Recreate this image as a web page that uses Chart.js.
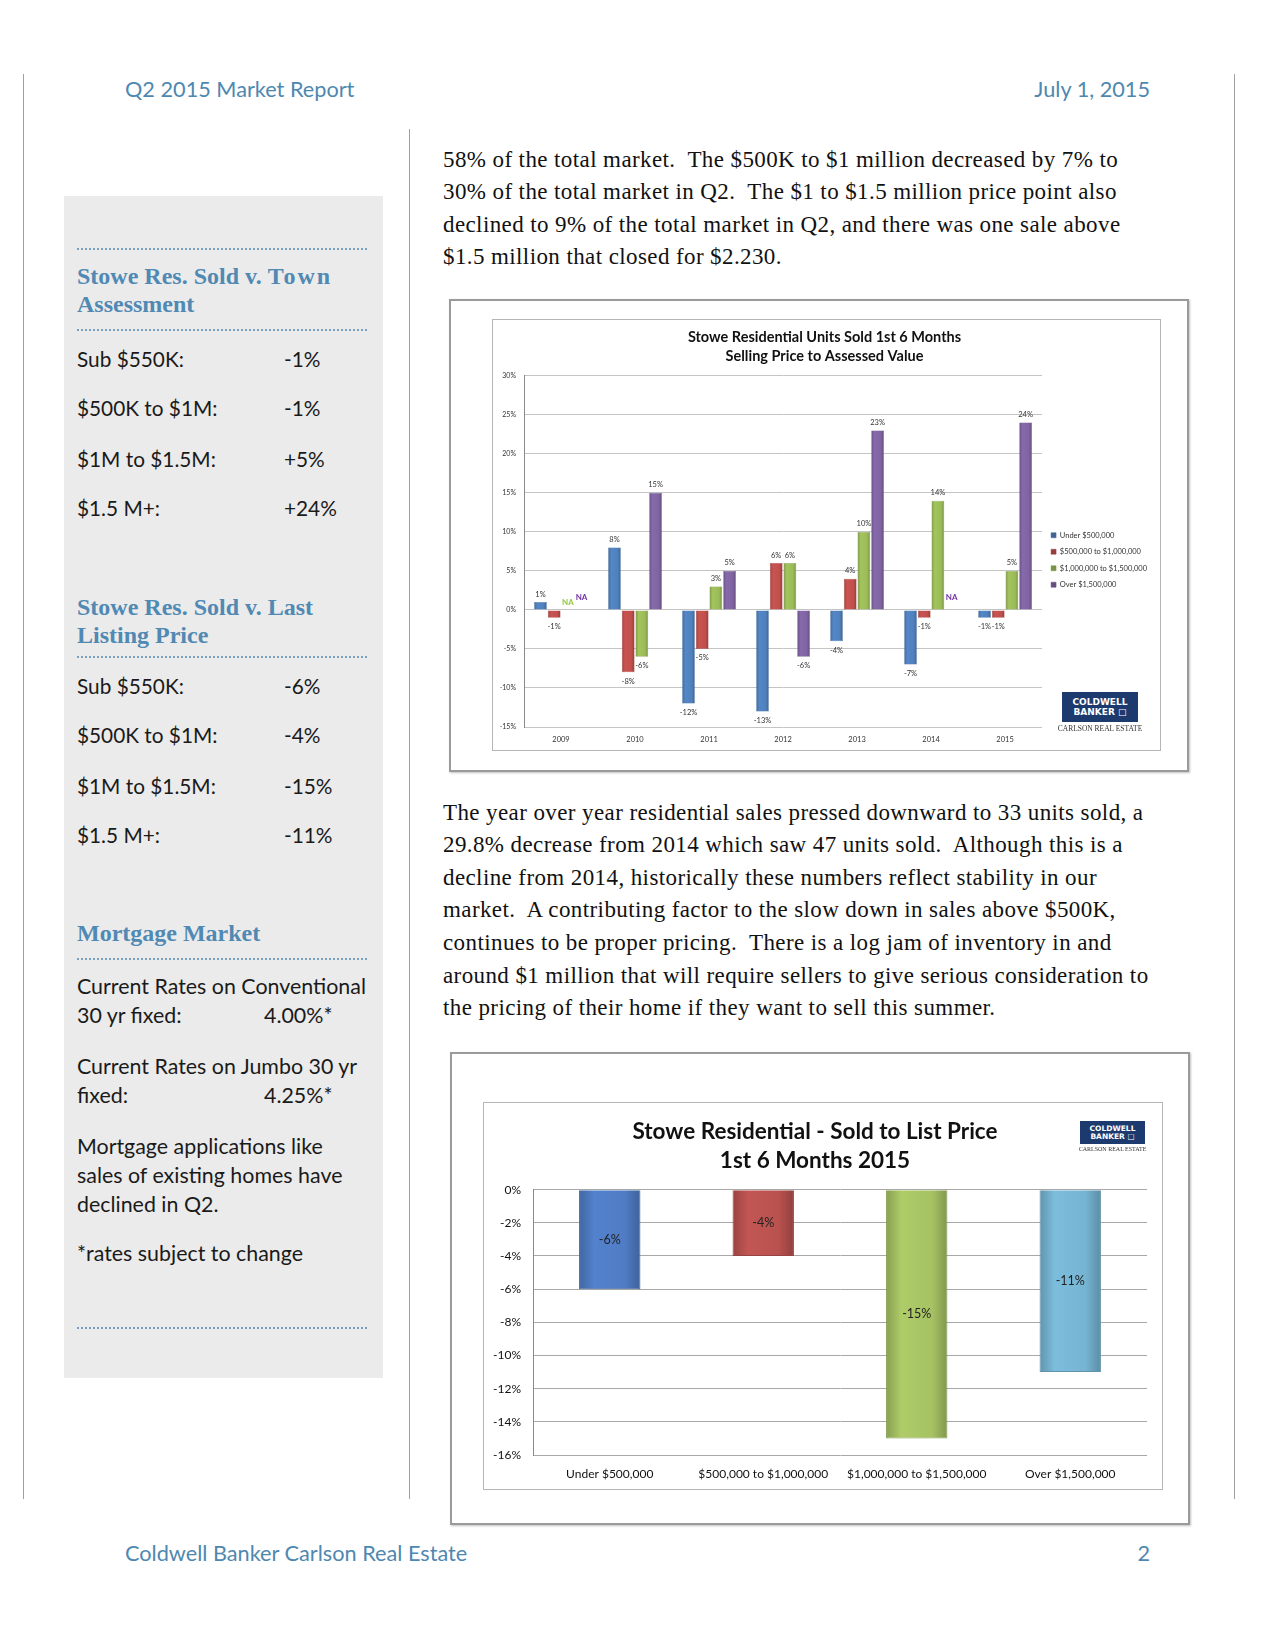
<!DOCTYPE html>
<html>
<head>
<meta charset="utf-8">
<script src="https://cdn.jsdelivr.net/npm/chart.js@4.4.1/dist/chart.umd.min.js"></script>
<style>
  body { margin: 0; background: #fff; }
  #page { position: relative; width: 1275px; height: 1650px; overflow: hidden; font-family: Lato, "Noto Sans", sans-serif; color: #1a1a1a; }
  .abs { position: absolute; white-space: nowrap; }
  .vline { position: absolute; width: 1px; background: #a0a0a0; }
  .head { color: #4e88b0; font-size: 21.7px; line-height: 24px; }
  .side { position: absolute; left: 64px; top: 196px; width: 319px; height: 1182px; background: #ebebeb; }
  .dots { position: absolute; left: 77px; width: 290px; border-top: 2px dotted #7a9fc0; }
  .shead { font-family: "Liberation Serif", serif; font-weight: bold; color: #5089b3; font-size: 24px; line-height: 28px; left: 77px; }
  .row { font-size: 20.8px; line-height: 24px; }
  .mort { font-size: 21.4px; line-height: 29px; left: 77px; }
  .body { font-family: "Liberation Serif", serif; font-size: 23px; letter-spacing: 0.4px; line-height: 32.6px; left: 443px; color: #111; }
  .frame { position: absolute; border: 2px solid #9a9a9a; box-shadow: 1px 1px 2px rgba(0,0,0,.25); background: #fff; }
  .inner { position: absolute; border: 1px solid #b5b5b5; background: #fff; }
  .logo { position: absolute; background: #1d3a6e; color: #fff; font-family: "DejaVu Sans", sans-serif; font-weight: bold; text-align: center; }
  .logo-sub { position: absolute; font-family: "Liberation Serif", serif; color: #333; text-align: center; white-space: nowrap; }
</style>
</head>
<body>
<div id="page">
  <div class="vline" style="left:23px; top:74px; height:1425px;"></div>
  <div class="vline" style="left:1234px; top:74px; height:1425px;"></div>
  <div class="vline" style="left:409px; top:129px; height:1370px;"></div>

  <div class="abs head" style="left:125px; top:77px;">Q2 2015 Market Report</div>
  <div class="abs head" style="right:125px; top:77px;">July 1, 2015</div>

  <div class="side"></div>
  <div class="dots" style="top:248px;"></div>
  <div class="abs shead" style="top:262px;">Stowe Res. Sold v. <span style="letter-spacing:2px">Town</span><br>Assessment</div>
  <div class="dots" style="top:329px;"></div>
  <div class="abs row" style="left:77px; top:347px;">Sub $550K:</div><div class="abs row" style="left:284px; top:347px;">-1%</div>
  <div class="abs row" style="left:77px; top:396px;">$500K to $1M:</div><div class="abs row" style="left:284px; top:396px;">-1%</div>
  <div class="abs row" style="left:77px; top:447px;">$1M to $1.5M:</div><div class="abs row" style="left:284px; top:447px;">+5%</div>
  <div class="abs row" style="left:77px; top:496px;">$1.5 M+:</div><div class="abs row" style="left:284px; top:496px;">+24%</div>

  <div class="abs shead" style="top:593px;">Stowe Res. Sold v. Last<br>Listing Price</div>
  <div class="dots" style="top:656px;"></div>
  <div class="abs row" style="left:77px; top:674px;">Sub $550K:</div><div class="abs row" style="left:284px; top:674px;">-6%</div>
  <div class="abs row" style="left:77px; top:723px;">$500K to $1M:</div><div class="abs row" style="left:284px; top:723px;">-4%</div>
  <div class="abs row" style="left:77px; top:774px;">$1M to $1.5M:</div><div class="abs row" style="left:284px; top:774px;">-15%</div>
  <div class="abs row" style="left:77px; top:823px;">$1.5 M+:</div><div class="abs row" style="left:284px; top:823px;">-11%</div>

  <div class="abs shead" style="top:919px;">Mortgage Market</div>
  <div class="dots" style="top:958px;"></div>
  <div class="abs mort" style="top:972px;">Current Rates on Conventional</div>
  <div class="abs mort" style="top:1001px;">30 yr fixed:</div><div class="abs mort" style="left:264px; top:1001px;">4.00%*</div>
  <div class="abs mort" style="top:1052px;">Current Rates on Jumbo 30 yr</div>
  <div class="abs mort" style="top:1081px;">fixed:</div><div class="abs mort" style="left:264px; top:1081px;">4.25%*</div>
  <div class="abs mort" style="top:1132px;">Mortgage applications like<br>sales of existing homes have<br>declined in Q2.</div>
  <div class="abs mort" style="top:1239px;">*rates subject to change</div>
  <div class="dots" style="top:1327px;"></div>

  <div class="abs body" style="top:143.7px;">58% of the total market.&nbsp; The $500K to $1 million decreased by 7% to<br>30% of the total market in Q2.&nbsp; The $1 to $1.5 million price point also<br>declined to 9% of the total market in Q2, and there was one sale above<br>$1.5 million that closed for $2.230.</div>

  <div class="frame" style="left:449px; top:299px; width:736px; height:469px;"></div>
  <div class="inner" style="left:492px; top:319px; width:667px; height:430px;"></div>
  <div class="abs" style="left:492px; top:319px; width:668px; height:431px;"><canvas id="assessChart"></canvas></div>
  <div class="logo" style="left:1062px; top:692px; width:76px; height:30px; font-size:9px; line-height:10px; padding-top:5px; box-sizing:border-box;">COLDWELL<br>BANKER &#9633;</div>
  <div class="logo-sub" style="left:1052px; top:724px; width:96px; font-size:7.5px;">CARLSON REAL ESTATE</div>

  <div class="abs body" style="top:796.7px;">The year over year residential sales pressed downward to 33 units sold, a<br>29.8% decrease from 2014 which saw 47 units sold.&nbsp; Although this is a<br>decline from 2014, historically these numbers reflect stability in our<br>market.&nbsp; A contributing factor to the slow down in sales above $500K,<br>continues to be proper pricing.&nbsp; There is a log jam of inventory in and<br>around $1 million that will require sellers to give serious consideration to<br>the pricing of their home if they want to sell this summer.</div>

  <div class="frame" style="left:450px; top:1052px; width:736px; height:469px;"></div>
  <div class="inner" style="left:483px; top:1102px; width:678px; height:386px;"></div>
  <div class="abs" style="left:483px; top:1102px; width:679px; height:387px;"><canvas id="listChart"></canvas></div>
  <div class="logo" style="left:1080px; top:1121px; width:65px; height:23px; font-size:7.5px; line-height:8px; padding-top:4px; box-sizing:border-box;">COLDWELL<br>BANKER &#9633;</div>
  <div class="logo-sub" style="left:1070px; top:1146px; width:85px; font-size:6px;">CARLSON REAL ESTATE</div>

  <div class="abs head" style="left:125px; top:1541px;">Coldwell Banker Carlson Real Estate</div>
  <div class="abs head" style="right:125px; top:1541px;">2</div>
</div>

<script>
// selling price to assessed value, 1st 6 months, by year
const years = ['2009', '2010', '2011', '2012', '2013', '2014', '2015'];
const under500k = [1, 8, -12, -13, -4, -7, -1];
const from500kTo1m = [-1, -8, -5, 6, 4, -1, -1];
const from1mTo15m = [null, -6, 3, 6, 10, 14, 5];
const over15m = [null, 15, 5, -6, 23, null, 24];
const assessMin = -15;
const assessMax = 30;
const assessStep = 5;

// sold to list price, 1st 6 months 2015
const brackets = ['Under $500,000', '$500,000 to $1,000,000', '$1,000,000 to $1,500,000', 'Over $1,500,000'];
const soldToList = [-6, -4, -15, -11];
const listMin = -16;
const listMax = 0;
const listStep = 2;

const pct = (v) => `${v}%`;

const shade = (hex, amt) => {
    const n = parseInt(hex.slice(1), 16);
    const ch = (s) => Math.max(0, Math.min(255, Math.round(((n >> s) & 255) * amt)));
    return `rgb(${ch(16)},${ch(8)},${ch(0)})`;
};

// rounded bevel look like the old Excel bars
const bevel = (hex) => (ctx) => {
    const el = ctx.element;
    if (!el || !Number.isFinite(el.x) || !el.width) return hex;
    const g = ctx.chart.ctx.createLinearGradient(el.x - el.width / 2, 0, el.x + el.width / 2, 0);
    g.addColorStop(0, shade(hex, 0.82));
    g.addColorStop(0.25, shade(hex, 1.05));
    g.addColorStop(0.75, shade(hex, 1.0));
    g.addColorStop(1, shade(hex, 0.78));
    return g;
};

const valueLabels = {
    id: 'valueLabels',
    afterDatasetsDraw(chart, _args, opts) {
        const { ctx } = chart;
        ctx.save();
        ctx.textAlign = 'center';
        ctx.textBaseline = 'middle';
        chart.data.datasets.forEach((ds, di) => {
            chart.getDatasetMeta(di).data.forEach((bar, i) => {
                const v = ds.data[i];
                if (v === null) {
                    if (!ds.naColor) return;
                    const zero = chart.scales.y.getPixelForValue(0);
                    ctx.font = opts.naFont;
                    ctx.fillStyle = ds.naColor;
                    ctx.fillText('NA', bar.x, zero - ds.naLift);
                    return;
                }
                ctx.font = opts.font;
                ctx.fillStyle = opts.color;
                let y;
                if (opts.inside) y = (bar.y + bar.base) / 2;
                else y = v >= 0 ? bar.y - opts.gap : bar.y + opts.gap + 1;
                ctx.fillText(pct(v), bar.x, y);
            });
        });
        ctx.restore();
    },
};

const assessColors = ['#4f81bd', '#c0504d', '#9bbb59', '#8064a2'];
const assessSeries = [under500k, from500kTo1m, from1mTo15m, over15m];
const naColors = [null, null, '#92c83e', '#7030a0'];
const naLifts = [0, 0, 8, 13];

const assessChart = new Chart(document.getElementById('assessChart'), {
    type: 'bar',
    data: {
        labels: years,
        datasets: assessSeries.map((data, i) => ({
            label: brackets[i],
            data,
            backgroundColor: bevel(assessColors[i]),
            borderColor: shade(assessColors[i], 0.8),
            borderWidth: 0.5,
            categoryPercentage: 0.74,
            barPercentage: 0.93,
            naColor: naColors[i],
            naLift: naLifts[i],
        })),
    },
    options: {
        responsive: true,
        maintainAspectRatio: false,
        animation: false,
        devicePixelRatio: 1,
        layout: { padding: { left: 0, right: 3, top: 0, bottom: 0 } },
        plugins: {
            title: {
                display: true,
                text: ['Stowe Residential Units Sold 1st 6 Months', 'Selling Price to Assessed Value'],
                color: '#111',
                font: { family: 'Lato', size: 14.5, weight: 'bold', lineHeight: 1.32 },
                padding: { top: 8.5, bottom: 10 },
            },
            legend: {
                position: 'right',
                fullSize: false,
                title: { display: true, text: ' ', font: { size: 6 }, padding: 5 },
                labels: {
                    boxWidth: 5,
                    boxHeight: 5,
                    padding: 9,
                    color: '#333',
                    font: { family: 'Lato', size: 7.5 },
                },
            },
            tooltip: { enabled: false },
            valueLabels: { font: '7.5px Lato', naFont: 'bold 8px Lato', color: '#333', gap: 8 },
        },
        scales: {
            x: {
                grid: { display: false, drawTicks: false },
                border: { display: false },
                ticks: { color: '#333', font: { family: 'Lato', size: 7.5 }, padding: 8 },
                afterFit: (scale) => { scale.height = 23; },
            },
            y: {
                min: assessMin,
                max: assessMax,
                grid: { color: '#c4c4c4', drawTicks: false },
                border: { color: '#8a8a8a' },
                ticks: { stepSize: assessStep, color: '#333', font: { family: 'Lato', size: 7 }, padding: 8, callback: pct },
                afterFit: (scale) => { scale.width = 32; },
            },
        },
    },
    plugins: [valueLabels],
});

const listColors = ['#4f7cc4', '#b9524f', '#a6c263', '#76b4d2'];

const listChart = new Chart(document.getElementById('listChart'), {
    type: 'bar',
    data: {
        labels: brackets,
        datasets: [{
            label: 'Sold to List Price',
            data: soldToList,
            backgroundColor: (ctx) => bevel(listColors[ctx.dataIndex])(ctx),
            borderColor: (ctx) => shade(listColors[ctx.dataIndex], 0.82),
            borderWidth: 1,
            categoryPercentage: 1,
            barPercentage: 0.4,
        }],
    },
    options: {
        responsive: true,
        maintainAspectRatio: false,
        animation: false,
        devicePixelRatio: 1,
        layout: { padding: { left: 0, right: 15, top: 0, bottom: 0 } },
        plugins: {
            title: {
                display: true,
                text: ['Stowe Residential - Sold to List Price', '1st 6 Months 2015'],
                color: '#111',
                font: { family: 'Lato', size: 22.5, weight: 'bold', lineHeight: 1.27 },
                padding: { top: 15.5, bottom: 15 },
            },
            legend: { display: false },
            tooltip: { enabled: false },
            valueLabels: { font: '12.5px Lato', naFont: '12.5px Lato', color: '#222', inside: true, gap: 0 },
        },
        scales: {
            x: {
                grid: { display: false, drawTicks: false },
                border: { display: false },
                ticks: { color: '#111', font: { family: 'Lato', size: 12 }, padding: 12 },
                afterFit: (scale) => { scale.height = 34; },
            },
            y: {
                min: listMin,
                max: listMax,
                grid: { color: '#a8a8a8', drawTicks: false },
                border: { color: '#8a8a8a' },
                ticks: { stepSize: listStep, color: '#111', font: { family: 'Lato', size: 12 }, padding: 12, callback: pct },
                afterFit: (scale) => { scale.width = 50; },
            },
        },
    },
    plugins: [valueLabels],
});

// second pass so the bevel gradients can read bar positions
assessChart.update('none');
listChart.update('none');
</script>
</body>
</html>
